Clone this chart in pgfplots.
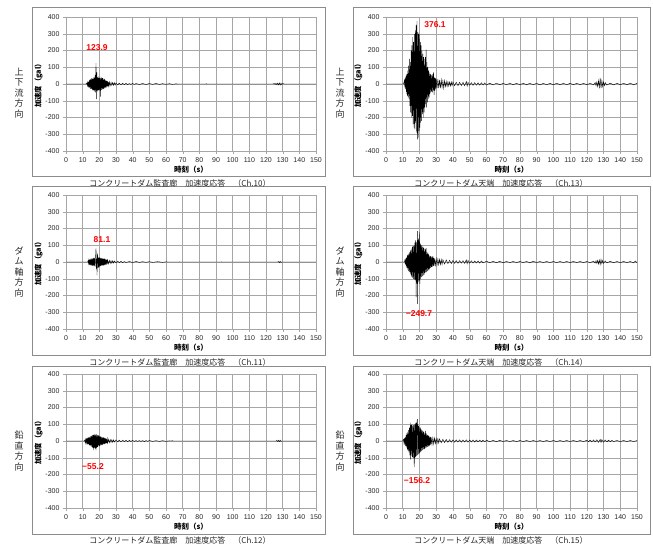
\documentclass[border=0pt]{standalone}
\usepackage{pgfplots}
\pgfplotsset{compat=1.18}
\usepackage{fontspec}
\setmainfont{Liberation Sans}
\newfontfamily\jp{Noto Sans CJK JP}
\definecolor{gridc}{HTML}{A6A6A6}
\definecolor{boxc}{HTML}{8C8C8C}
\pgfplotsset{
  ea/.style={
    scale only axis, height=134pt,
    xmin=0, xmax=150, ymin=-400, ymax=400,
    xtick={0,10,...,150}, ytick={-400,-300,...,400},
    grid=major, major grid style={draw=gridc, line width=0.5pt},
    axis line style={draw=gridc},
    tick style={draw=gridc}, tick align=outside, major tick length=3pt,
    xtick pos=bottom, ytick pos=left,
    tick label style={font=\fontsize{7}{8}\selectfont, text=black!85},
    /pgf/number format/assume math mode=true,
    xlabel={\jp\bfseries 時刻（s）},
    ylabel={\jp\bfseries 加速度（gal）},
    xlabel style={font=\fontsize{7.5}{8}\selectfont, at={(axis description cs:0.5,-0.14)}, anchor=center},
    ylabel style={font=\fontsize{7.3}{8}\selectfont, at={(axis description cs:-0.11,0.5)}, anchor=center},
    cycle list={{black, mark=none, line width=0.8pt, line join=round}},
  },
  lc/.style={ea, width=250pt},
  rc/.style={ea, width=251pt},
}
\tikzset{
  sidelab/.style={font=\jp\fontsize{9}{10.5}\selectfont, align=center, text=black!85},
  captlab/.style={font=\jp\fontsize{8}{9}\selectfont, text=black!85},
  pklab/.style={font=\bfseries\fontsize{8.5}{9}\selectfont, text=red},
}
\begin{document}
\begin{tikzpicture}
\useasboundingbox (0,0) rectangle (653pt,-544pt);
% panel boxes
\draw[boxc, line width=0.7pt] (32pt,-7pt) rectangle (325pt,-176pt);
\draw[boxc, line width=0.7pt] (353pt,-7pt) rectangle (650pt,-176pt);
\draw[boxc, line width=0.7pt] (32pt,-186pt) rectangle (325pt,-355pt);
\draw[boxc, line width=0.7pt] (353pt,-186pt) rectangle (650pt,-355pt);
\draw[boxc, line width=0.7pt] (32pt,-366pt) rectangle (325pt,-534pt);
\draw[boxc, line width=0.7pt] (353pt,-366pt) rectangle (650pt,-534pt);
% side labels
\node[sidelab] at (19pt,-93pt) {上\\下\\流\\方\\向};
\node[sidelab] at (340pt,-93pt) {上\\下\\流\\方\\向};
\node[sidelab] at (19pt,-272pt) {ダ\\ム\\軸\\方\\向};
\node[sidelab] at (340pt,-272pt) {ダ\\ム\\軸\\方\\向};
\node[sidelab] at (19pt,-451pt) {鉛\\直\\方\\向};
\node[sidelab] at (340pt,-451pt) {鉛\\直\\方\\向};
% captions
\node[captlab] at (180pt,-183pt) {コンクリートダム監査廊　加速度応答　（Ch.10）};
\node[captlab] at (501pt,-183pt) {コンクリートダム天端　加速度応答　（Ch.13）};
\node[captlab] at (180pt,-362pt) {コンクリートダム監査廊　加速度応答　（Ch.11）};
\node[captlab] at (501pt,-362pt) {コンクリートダム天端　加速度応答　（Ch.14）};
\node[captlab] at (180pt,-540pt) {コンクリートダム監査廊　加速度応答　（Ch.12）};
\node[captlab] at (501pt,-540pt) {コンクリートダム天端　加速度応答　（Ch.15）};

% ---------- Ch.10 ----------
\begin{axis}[lc, at={(66pt,-151pt)}, anchor=south west]
\addplot table[row sep=\\] {t a\\
0 0\\ 12 0\\ 12.5 6\\ 12.75 -8\\ 13 10\\ 13.25 -12\\ 13.5 15\\ 13.75 -18\\ 14 22\\ 14.25 -25\\ 14.5 28\\ 14.75 -30\\ 15 32\\ 15.25 -28\\ 15.5 35\\ 15.75 -38\\ 16 30\\ 16.25 -35\\ 16.5 40\\ 16.75 -40\\ 17 38\\ 17.25 -45\\ 17.5 55\\ 17.75 -50\\ 18 123.9\\ 18.25 -90\\ 18.5 70\\ 18.75 -45\\ 19 40\\ 19.25 -40\\ 19.5 45\\ 19.75 -35\\ 20 38\\ 20.25 -40\\ 20.5 35\\ 20.75 -75\\ 21 40\\ 21.25 -35\\ 21.5 38\\ 21.75 -32\\ 22 35\\ 22.25 -30\\ 22.5 32\\ 22.75 -28\\ 23 30\\ 23.25 -25\\ 23.5 25\\ 23.75 -22\\ 24 22\\ 24.25 -20\\ 24.5 18\\ 24.75 -15\\ 25 15\\ 25.25 -14\\ 25.5 12\\ 25.75 -12\\ 26 12\\ 26.5 -10\\ 27 10\\ 27.5 -8\\ 28 9\\ 28.5 -7\\ 29 8\\ 29.5 -6\\ 30 6\\ 31 -5\\ 32 5\\ 33 -5\\ 34 4\\ 35 -4\\ 36 4\\ 37 -4\\ 38 3\\ 39 -3\\ 40 4\\ 41 -3\\ 42 3\\ 44 -3\\ 46 3\\ 48 -3\\ 50 3\\ 52 -2\\ 54 3\\ 56 -2\\ 58 2\\ 60 -2\\ 62 2\\ 64 -2\\ 66 1\\ 67 0\\ 84 0\\ 84.2 2\\ 84.4 0\\ 124 0\\ 125 3\\ 125.5 -3\\ 126 4\\ 126.5 -4\\ 127 5\\ 127.5 -5\\ 128 6\\ 128.5 -6\\ 129 5\\ 129.5 -4\\ 130 3\\ 131 0\\ 150 0\\
};
\node[pklab] at (axis cs:18.6,215) {123.9};
\end{axis}

% ---------- Ch.13 ----------
\begin{axis}[rc, at={(386pt,-151pt)}, anchor=south west]
\addplot table[row sep=\\] {t a\\
0 0\\ 10.5 0\\ 11 20\\ 11.25 -20\\ 11.5 40\\ 11.75 -30\\ 12 50\\ 12.25 -60\\ 12.5 60\\ 12.75 -70\\ 13 80\\ 13.25 -80\\ 13.5 110\\ 13.75 -90\\ 14 150\\ 14.25 -130\\ 14.5 130\\ 14.75 -170\\ 15 200\\ 15.25 -200\\ 15.5 230\\ 15.75 -190\\ 16 280\\ 16.25 -240\\ 16.5 250\\ 16.75 -260\\ 17 300\\ 17.25 -270\\ 17.5 320\\ 17.75 -230\\ 18 350\\ 18.25 -290\\ 18.5 376.1\\ 18.75 -330\\ 19 310\\ 19.25 -320\\ 19.5 300\\ 19.75 -280\\ 20 300\\ 20.25 -260\\ 20.5 250\\ 20.75 -230\\ 21 230\\ 21.25 -220\\ 21.5 200\\ 21.75 -180\\ 22 180\\ 22.25 -200\\ 22.5 160\\ 22.75 -170\\ 23 150\\ 23.25 -140\\ 23.5 160\\ 23.75 -120\\ 24 205\\ 24.25 -140\\ 24.5 130\\ 24.75 -110\\ 25 100\\ 25.25 -90\\ 25.5 80\\ 25.75 -80\\ 26 70\\ 26.25 -60\\ 26.5 60\\ 26.75 -50\\ 27 55\\ 27.25 -45\\ 27.5 50\\ 27.75 -50\\ 28 60\\ 28.25 -40\\ 28.5 70\\ 28.75 -65\\ 29 40\\ 29.25 -40\\ 29.5 35\\ 29.75 -30\\ 30 30\\ 30.5 -25\\ 31 30\\ 31.5 -25\\ 32 25\\ 32.5 -25\\ 33 25\\ 33.5 -20\\ 34 20\\ 34.5 -25\\ 35 20\\ 35.5 -15\\ 36 15\\ 36.5 -15\\ 37 14\\ 37.5 -12\\ 38 12\\ 38.5 -12\\ 39 12\\ 39.5 -10\\ 40 12\\ 41 -10\\ 42 10\\ 43 -10\\ 44 10\\ 45 -9\\ 46 10\\ 47 -10\\ 48 15\\ 48.5 -12\\ 49 10\\ 50 -8\\ 51 8\\ 52 -8\\ 53 8\\ 54 -7\\ 55 7\\ 56 -7\\ 57 7\\ 58 -6\\ 59 6\\ 60 -6\\ 62 5\\ 64 -5\\ 66 5\\ 68 -4\\ 70 4\\ 72 -4\\ 74 4\\ 76 -4\\ 78 4\\ 80 -4\\ 82 4\\ 84 -4\\ 86 4\\ 88 -4\\ 90 4\\ 92 -5\\ 94 4\\ 96 -4\\ 98 4\\ 100 -4\\ 102 4\\ 104 -4\\ 106 4\\ 108 -4\\ 110 4\\ 112 -4\\ 114 4\\ 116 -4\\ 118 4\\ 120 -4\\ 122 4\\ 124 -5\\ 125 8\\ 125.5 -10\\ 126 12\\ 126.5 -15\\ 127 20\\ 127.5 -20\\ 128 35\\ 128.5 -25\\ 129 20\\ 129.5 -15\\ 130 12\\ 130.5 -10\\ 131 8\\ 132 -6\\ 134 5\\ 136 -5\\ 138 4\\ 140 -4\\ 142 4\\ 144 -4\\ 146 4\\ 148 -4\\ 150 4\\
};
\node[pklab] at (axis cs:29.3,352) {376.1};
\end{axis}

% ---------- Ch.11 ----------
\begin{axis}[lc, at={(66pt,-329pt)}, anchor=south west]
\addplot table[row sep=\\] {t a\\
0 0\\ 13 0\\ 13.25 8\\ 13.5 -10\\ 13.75 12\\ 14 -15\\ 14.25 15\\ 14.5 -18\\ 14.75 18\\ 15 -20\\ 15.25 20\\ 15.5 -22\\ 15.75 20\\ 16 -22\\ 16.25 22\\ 16.5 -25\\ 16.75 25\\ 17 -22\\ 17.25 25\\ 17.5 -28\\ 17.75 30\\ 18 81.1\\ 18.25 -40\\ 18.5 20\\ 18.6 -80\\ 18.75 30\\ 19 50\\ 19.25 -35\\ 19.5 30\\ 19.75 -30\\ 20 28\\ 20.25 -28\\ 20.5 25\\ 20.75 -25\\ 21 25\\ 21.25 -22\\ 21.5 22\\ 21.75 -22\\ 22 20\\ 22.25 -20\\ 22.5 22\\ 22.75 -20\\ 23 20\\ 23.25 -18\\ 23.5 18\\ 23.75 -16\\ 24 15\\ 24.25 -15\\ 24.5 14\\ 24.75 -12\\ 25 12\\ 25.5 -10\\ 26 10\\ 26.5 -8\\ 27 8\\ 27.5 -7\\ 28 7\\ 28.5 -6\\ 29 6\\ 30 -5\\ 31 5\\ 32 -4\\ 33 4\\ 34 -4\\ 35 3\\ 36 -3\\ 38 3\\ 40 -3\\ 42 3\\ 44 -2\\ 46 2\\ 48 -2\\ 50 2\\ 52 -2\\ 55 2\\ 58 -2\\ 60 1\\ 61 0\\ 68 0\\ 68.2 1.5\\ 68.4 0\\ 93 0\\ 93.2 1.5\\ 93.4 0\\ 127 0\\ 127.5 3\\ 128 -4\\ 128.5 4\\ 129 -3\\ 129.5 0\\ 150 0\\
};
\node[pklab] at (axis cs:21.6,131) {81.1};
\end{axis}

% ---------- Ch.14 ----------
\begin{axis}[rc, at={(386pt,-329pt)}, anchor=south west]
\addplot table[row sep=\\] {t a\\
0 0\\ 11 0\\ 11.25 10\\ 11.5 -15\\ 11.75 20\\ 12 -25\\ 12.25 30\\ 12.5 -35\\ 12.75 40\\ 13 -45\\ 13.25 45\\ 13.5 -55\\ 13.75 55\\ 14 -60\\ 14.25 60\\ 14.5 -70\\ 14.75 70\\ 15 -80\\ 15.25 80\\ 15.5 -90\\ 15.75 90\\ 16 -95\\ 16.25 95\\ 16.5 -100\\ 16.75 100\\ 17 -105\\ 17.25 115\\ 17.5 -110\\ 17.75 130\\ 18 -210\\ 18.25 120\\ 18.5 -130\\ 18.75 185\\ 18.9 -249.7\\ 19 130\\ 19.25 -120\\ 19.5 140\\ 19.75 -110\\ 20 180\\ 20.25 -130\\ 20.5 110\\ 20.75 -100\\ 21 100\\ 21.25 -90\\ 21.5 100\\ 21.75 -85\\ 22 90\\ 22.25 -80\\ 22.5 85\\ 22.75 -75\\ 23 80\\ 23.25 -65\\ 23.5 75\\ 23.75 -60\\ 24 83\\ 24.25 -60\\ 24.5 60\\ 24.75 -55\\ 25 55\\ 25.25 -50\\ 25.5 45\\ 25.75 -45\\ 26 40\\ 26.25 -38\\ 26.5 35\\ 26.75 -35\\ 27 32\\ 27.25 -30\\ 27.5 30\\ 27.75 -28\\ 28 35\\ 28.25 -25\\ 28.5 25\\ 28.75 -22\\ 29 22\\ 29.5 -20\\ 30 20\\ 30.5 -18\\ 31 18\\ 31.5 -16\\ 32 16\\ 32.5 -15\\ 33 15\\ 33.5 -14\\ 34 14\\ 35 -12\\ 36 12\\ 37 -10\\ 38 10\\ 39 -9\\ 40 9\\ 41 -8\\ 42 8\\ 43 -8\\ 44 8\\ 45 -7\\ 46 8\\ 47 -8\\ 48 12\\ 48.5 -10\\ 49 10\\ 50 -7\\ 51 7\\ 52 -6\\ 53 6\\ 54 -6\\ 55 6\\ 56 -6\\ 57 6\\ 58 -5\\ 60 5\\ 62 -4\\ 64 4\\ 66 -4\\ 68 4\\ 70 -4\\ 72 3\\ 74 -3\\ 76 3\\ 78 -3\\ 80 3\\ 82 -3\\ 84 3\\ 86 -4\\ 88 4\\ 90 -3\\ 92 3\\ 94 -3\\ 96 3\\ 98 -3\\ 100 3\\ 102 -3\\ 104 3\\ 106 -3\\ 108 3\\ 110 -3\\ 112 3\\ 114 -3\\ 116 3\\ 118 -3\\ 120 3\\ 122 -4\\ 124 5\\ 125 -6\\ 125.5 7\\ 126 -8\\ 126.5 10\\ 127 -12\\ 127.5 12\\ 128 -15\\ 128.5 15\\ 129 -10\\ 129.5 10\\ 130 -8\\ 131 6\\ 132 -5\\ 134 4\\ 136 -4\\ 138 3\\ 140 -3\\ 142 3\\ 144 -3\\ 146 3\\ 148 -5\\ 149 6\\ 150 -5\\
};
\node[pklab] at (axis cs:19.7,-310) {−249.7};
\end{axis}

% ---------- Ch.12 ----------
\begin{axis}[lc, at={(66pt,-508pt)}, anchor=south west]
\addplot table[row sep=\\] {t a\\
0 0\\ 11 0\\ 11.25 5\\ 11.5 -8\\ 11.75 10\\ 12 -12\\ 12.25 15\\ 12.5 -15\\ 12.75 18\\ 13 -20\\ 13.25 20\\ 13.5 -22\\ 13.75 22\\ 14 -25\\ 14.25 25\\ 14.5 -28\\ 14.75 28\\ 15 -30\\ 15.25 30\\ 15.5 -35\\ 15.75 35\\ 16 -40\\ 16.25 35\\ 16.5 -54\\ 16.75 38\\ 17 -40\\ 17.25 40\\ 17.5 -45\\ 17.75 38\\ 18 -55.2\\ 18.25 40\\ 18.5 -40\\ 18.75 35\\ 19 -35\\ 19.25 35\\ 19.5 -32\\ 19.75 30\\ 20 -30\\ 20.25 30\\ 20.5 -28\\ 20.75 28\\ 21 -25\\ 21.25 25\\ 21.5 -25\\ 21.75 22\\ 22 -22\\ 22.25 22\\ 22.5 -20\\ 22.75 20\\ 23 -18\\ 23.25 18\\ 23.5 -16\\ 23.75 15\\ 24 -15\\ 24.25 14\\ 24.5 -12\\ 24.75 12\\ 25 -12\\ 25.5 10\\ 26 -10\\ 26.5 9\\ 27 -8\\ 27.5 8\\ 28 -7\\ 28.5 7\\ 29 -6\\ 30 6\\ 31 -5\\ 32 5\\ 33 -5\\ 34 5\\ 35 -4\\ 36 4\\ 37 -4\\ 38 4\\ 39 -3\\ 40 4\\ 41 -3\\ 42 3\\ 43 -3\\ 44 3\\ 45 -3\\ 46 3\\ 47 -4\\ 48 3\\ 49 -2\\ 50 3\\ 52 -2\\ 54 2\\ 56 -2\\ 58 2\\ 60 -2\\ 62 1\\ 63 0\\ 64 2\\ 64.3 0\\ 126 0\\ 126.5 3\\ 127 -3\\ 127.5 4\\ 128 -4\\ 128.5 5\\ 129 -3\\ 129.5 0\\ 150 0\\
};
\node[pklab] at (axis cs:16.2,-155) {−55.2};
\end{axis}

% ---------- Ch.15 ----------
\begin{axis}[rc, at={(386pt,-508pt)}, anchor=south west]
\addplot table[row sep=\\] {t a\\
0 0\\ 10 0\\ 10.5 10\\ 10.75 -12\\ 11 15\\ 11.25 -20\\ 11.5 25\\ 11.75 -30\\ 12 35\\ 12.25 -40\\ 12.5 45\\ 12.75 -50\\ 13 55\\ 13.25 -60\\ 13.5 65\\ 13.75 -70\\ 14 80\\ 14.25 -85\\ 14.5 110\\ 14.75 -110\\ 15 95\\ 15.25 -90\\ 15.5 100\\ 15.75 -95\\ 16 90\\ 16.25 -100\\ 16.5 95\\ 16.75 -110\\ 16.9 -156.2\\ 17 100\\ 17.25 -100\\ 17.5 105\\ 17.75 -95\\ 18 110\\ 18.25 -90\\ 18.5 115\\ 18.75 130\\ 18.9 -85\\ 19 100\\ 19.25 -80\\ 19.5 90\\ 19.75 -75\\ 20 85\\ 20.25 -70\\ 20.5 80\\ 20.75 -65\\ 21 70\\ 21.25 -60\\ 21.5 65\\ 21.75 -55\\ 22 60\\ 22.25 -50\\ 22.5 55\\ 22.75 -48\\ 23 50\\ 23.25 -45\\ 23.5 60\\ 23.75 -40\\ 24 45\\ 24.25 -38\\ 24.5 40\\ 24.75 -35\\ 25 35\\ 25.25 -32\\ 25.5 30\\ 25.75 -30\\ 26 28\\ 26.25 -25\\ 26.5 25\\ 26.75 -22\\ 27 22\\ 27.5 -20\\ 28 20\\ 28.5 -18\\ 29 18\\ 29.5 -15\\ 30 15\\ 30.5 -14\\ 31 14\\ 31.5 -12\\ 32 12\\ 33 -10\\ 34 10\\ 35 -9\\ 36 9\\ 37 -8\\ 38 8\\ 39 -7\\ 40 7\\ 41 -7\\ 42 7\\ 43 -6\\ 44 7\\ 45 -7\\ 46 6\\ 47 -6\\ 48 7\\ 49 -6\\ 50 6\\ 51 -6\\ 52 6\\ 53 -6\\ 54 6\\ 55 -5\\ 56 5\\ 57 -5\\ 58 5\\ 59 -5\\ 60 5\\ 62 -4\\ 64 4\\ 66 -4\\ 68 4\\ 70 -3\\ 72 3\\ 74 -3\\ 76 3\\ 78 -3\\ 80 3\\ 82 -3\\ 84 3\\ 86 -3\\ 88 3\\ 90 -3\\ 92 3\\ 94 -3\\ 96 3\\ 98 -3\\ 100 3\\ 102 -3\\ 104 3\\ 106 -3\\ 108 3\\ 110 -3\\ 112 3\\ 114 -3\\ 116 3\\ 118 -3\\ 120 4\\ 121 -4\\ 122 5\\ 123 -5\\ 124 6\\ 125 -6\\ 126 7\\ 127 -8\\ 128 10\\ 128.5 -8\\ 129 8\\ 130 -7\\ 131 6\\ 132 -5\\ 133 5\\ 134 -4\\ 135 4\\ 136 -3\\ 138 3\\ 140 -3\\ 142 3\\ 144 -3\\ 146 3\\ 148 -3\\ 150 3\\
};
\node[pklab] at (axis cs:18.5,-239) {−156.2};
\end{axis}
\end{tikzpicture}
\end{document}
